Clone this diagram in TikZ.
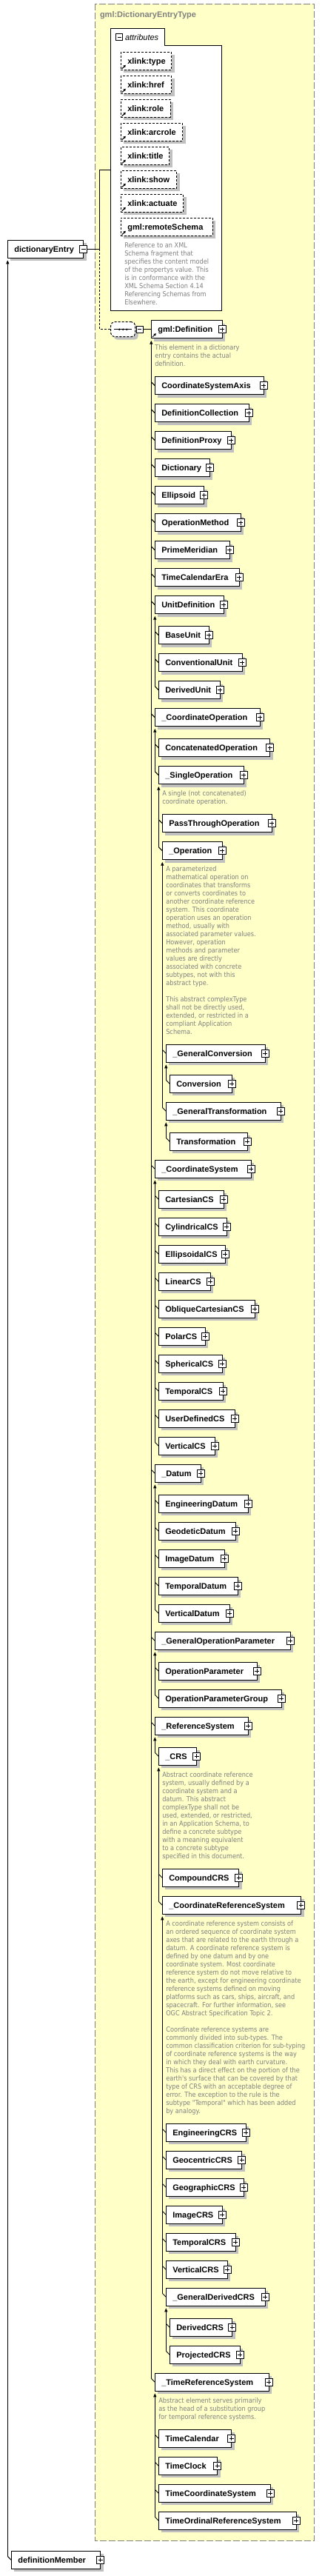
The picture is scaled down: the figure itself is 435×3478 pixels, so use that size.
\documentclass[tikz,border=0pt]{standalone}
\usepackage{fontspec}
\setmainfont{Liberation Sans}
\newfontfamily\descfont[FakeStretch=0.88]{DejaVu Sans}
\usetikzlibrary{arrows.meta,calc}
\definecolor{ybg}{HTML}{FFFFC8}
\definecolor{shd}{HTML}{C0C0C0}
\definecolor{dgray}{HTML}{808080}
\tikzset{
 every node/.style={outer sep=0pt},
 ebox/.style={draw=black, fill=white, line width=1pt, inner sep=0pt, anchor=north west, minimum height=24pt},
 abox/.style={ebox, dash pattern=on 3pt off 2pt},
 etext/.style={font=\fontsize{11}{13}\selectfont\bfseries, inner sep=0pt, anchor=base west},
 pbox/.style={draw=black, fill=white, line width=1pt, minimum size=10pt, inner sep=0pt},
 desc/.style={font=\descfont\fontsize{9.3}{11}\selectfont, text=dgray, align=left, inner sep=0pt, anchor=north west},
 conn/.style={line width=1pt},
 subarrow/.style={line width=1pt, -{Triangle[width=4pt,length=5pt]}},
}
\newcommand\xplus[1]{%
 \node[pbox] (#1-p) at (#1.east) {};
 \draw[line width=1pt] ([xshift=2pt]#1-p.west) -- ([xshift=-2pt]#1-p.east) ([yshift=-2pt]#1-p.north) -- ([yshift=2pt]#1-p.south);}
\newcommand\xel[5]{%
 \fill[shd] (#2+4,#3+4) rectangle (#4+4,#3+28);
 \node[ebox, minimum width={#4pt-#2pt}] (#1) at (#2,#3) {};
 \node[etext] (#1-t) at ([shift={(9pt,-4pt)}]#1.west) {#5};
 \xplus{#1}}
\newcommand\refic[1]{\draw[line width=1pt,-{Triangle[width=3.5pt,length=3pt]}] ([shift={(1.5pt,1.5pt)}]#1.south west) -- ++(5pt,5pt);}
\newcommand\xattr[4]{%
 \fill[shd] (167.3,#2+4) rectangle (#3+4,#2+28);
 \node[abox, minimum width={#3pt-163.3pt}] (#1) at (163.3,#2) {};
 \node[etext] (#1-t) at ([shift={(9pt,-4pt)}]#1.west) {#4};
 \refic{#1}}
\newcommand\xsub[1]{\draw[conn] ([shift={(-5pt,5pt)}]#1.west) -- (#1.west);}
\newcommand\xsubv[2]{\draw[subarrow] ([shift={(-5pt,5pt)}]#2.west) -- ([yshift=-3pt]#1.south west);}
\begin{document}
\begin{tikzpicture}[x=1pt,y=-1pt]
\useasboundingbox (0,0) rectangle (435,3478);
\fill[white] (0,0) rectangle (435,3478);
% outer complex type box
\draw[dgray, dash pattern=on 9pt off 3pt, fill=ybg, line width=1pt] (128.3,5.3) rectangle (424.3,3430.7);
\node[font=\fontsize{11}{13}\selectfont\bfseries, text=dgray, anchor=base west, inner sep=0pt] (title) at (135,23.3) {gml:DictionaryEntryType};
% attributes container
\draw[line width=1pt, fill=white] (149.3,38.3) -- (222.3,38.3) -- (222.3,61.3) -- (299.3,61.3) -- (299.3,419.3) -- (149.3,419.3) -- cycle;
\node[pbox, minimum size=9pt] (attrm) at (161.3,50.3) {};
\draw[line width=1pt] ([xshift=2pt]attrm.west) -- ([xshift=-2pt]attrm.east);
\node[font=\fontsize{11}{13}\selectfont\itshape, inner sep=0pt, anchor=base west] (attrt) at (169,54.3) {attributes};
\xattr{at1}{70.3}{231.7}{xlink:type}
\xattr{at2}{102.3}{231.7}{xlink:href}
\xattr{at3}{134.3}{230}{xlink:role}
\xattr{at4}{166.3}{246.7}{xlink:arcrole}
\xattr{at5}{198.3}{228.7}{xlink:title}
\xattr{at6}{230.3}{238.7}{xlink:show}
\xattr{at7}{262.3}{247.7}{xlink:actuate}
\xattr{at8}{294.3}{287.3}{gml:remoteSchema}
\node[desc] (at8d) at (168.3,327.5) {Reference to an XML\\Schema fragment that\\specifies the content model\\of the propertys value. This\\is in conformance with the\\XML Schema Section 4.14\\Referencing Schemas from\\Elsewhere.};
% dictionaryEntry
\fill[shd] (14.3,328) rectangle (116.7,352);
\node[ebox, minimum width=102.4pt] (de) at (10.3,324.3) {};
\node[etext] (de-t) at ([shift={(9pt,-4pt)}]de.west) {dictionaryEntry};
\node[pbox] (de-m) at (de.east) {};
\draw[line width=1pt] ([xshift=2pt]de-m.west) -- ([xshift=-2pt]de-m.east);
\coordinate (j0) at (134.3,229.3);
\coordinate (j1) at (134.3,336.3);
\coordinate (j2) at (134.3,444.7);
\coordinate (attrL) at (149.3,229.3);
\draw[conn] (de-m.east) -- (j1) -- (j0) -- (attrL);
% sequence
\fill[shd, rounded corners=5pt] (153.7,438.7) rectangle (186.7,458.7);
\node[draw, dash pattern=on 3pt off 2pt, fill=white, rounded corners=5pt, minimum width=33pt, minimum height=20pt, inner sep=0pt, line width=1pt] (seq) at (166.2,444.7) {};
\draw[line width=1pt] (154.3,444.7) -- (178.3,444.7);
\fill (161.3,444.7) circle (1.4) (166.3,444.7) circle (1.4) (171.3,444.7) circle (1.4);
\draw[conn, dash pattern=on 3pt off 2pt] (j1) -- (j2) -- (seq.west);
\node[pbox, minimum size=9pt] (seqm) at (188.8,444.7) {};
\draw[line width=1pt] ([xshift=2pt]seqm.west) -- ([xshift=-2pt]seqm.east);
% gml:Definition
\xel{def}{204.3}{432.7}{300.3}{gml:Definition}
\refic{def}
\draw[conn] (seqm.east) -- (def.west);
\node[desc] (defd) at (209.3,465.5) {This element in a dictionary\\entry contains the actual\\definition.};
% level 1
\xel{csa}{209.3}{508.7}{356.3}{CoordinateSystemAxis}
\xel{dcol}{209.3}{545.7}{336.3}{DefinitionCollection}
\xel{dprox}{209.3}{582.7}{312.3}{DefinitionProxy}
\xel{dict}{209.3}{619.7}{283.3}{Dictionary}
\xel{ell}{209.3}{656.7}{275.7}{Ellipsoid}
\xel{opm}{209.3}{693.7}{325.3}{OperationMethod}
\xel{pm}{209.3}{730.7}{310.3}{PrimeMeridian}
\xel{tce}{209.3}{767.7}{323.3}{TimeCalendarEra}
\xel{ud}{209.3}{804.7}{302.3}{UnitDefinition}
\xel{bu}{214.3}{845.7}{282.3}{BaseUnit}
\xel{cu}{214.3}{882.7}{327.3}{ConventionalUnit}
\xel{du}{214.3}{919.7}{297.3}{DerivedUnit}
\xel{cop}{209.3}{956.7}{351.3}{\_CoordinateOperation}
\xel{concat}{214.3}{997.7}{364.7}{ConcatenatedOperation}
\xel{sop}{214.3}{1034.7}{329.3}{\_SingleOperation}
\node[desc] (sopd) at (219.3,1067.8) {A single (not concatenated)\\coordinate operation.};
\xel{pto}{219.3}{1099.7}{367.3}{PassThroughOperation}
\xel{oper}{219.3}{1136.7}{300.3}{\_Operation}
\node[desc] (operd) at (224.3,1169.5) {A parameterized\\mathematical operation on\\coordinates that transforms\\or converts coordinates to\\another coordinate reference\\system. This coordinate\\operation uses an operation\\method, usually with\\associated parameter values.\\However, operation\\methods and parameter\\values are directly\\associated with concrete\\subtypes, not with this\\abstract type.\\[11pt]This abstract complexType\\shall not be directly used,\\extended, or restricted in a\\compliant Application\\Schema.};
\xel{gconv}{224.3}{1410.3}{358.3}{\_GeneralConversion}
\xel{conv}{229.3}{1451.3}{313.3}{Conversion}
\xel{gtrans}{224.3}{1488.3}{379.3}{\_GeneralTransformation}
\xel{trans}{229.3}{1529.3}{334.3}{Transformation}
\xel{cs}{209.3}{1566.3}{339.3}{\_CoordinateSystem}
\xel{cart}{214.3}{1607.3}{302.3}{CartesianCS}
\xel{cyl}{214.3}{1644.3}{306.3}{CylindricalCS}
\xel{ellcs}{214.3}{1681.3}{304.3}{EllipsoidalCS}
\xel{lin}{214.3}{1718.3}{284.3}{LinearCS}
\xel{obl}{214.3}{1755.3}{344.3}{ObliqueCartesianCS}
\xel{polar}{214.3}{1792.3}{277.3}{PolarCS}
\xel{sph}{214.3}{1829.3}{300.3}{SphericalCS}
\xel{tcs}{214.3}{1866.3}{301.3}{TemporalCS}
\xel{udcs}{214.3}{1903.3}{317.3}{UserDefinedCS}
\xel{vcs}{214.3}{1940.3}{290.3}{VerticalCS}
\xel{datum}{209.3}{1977.3}{271.3}{\_Datum}
\xel{engd}{214.3}{2018.3}{335.3}{EngineeringDatum}
\xel{geod}{214.3}{2055.3}{318.3}{GeodeticDatum}
\xel{imgd}{214.3}{2092.3}{303.3}{ImageDatum}
\xel{tempd}{214.3}{2129.3}{321.3}{TemporalDatum}
\xel{vertd}{214.3}{2166.3}{310}{VerticalDatum}
\xel{gop}{209.3}{2203.3}{392.3}{\_GeneralOperationParameter}
\xel{opp}{214.3}{2244.3}{347.3}{OperationParameter}
\xel{oppg}{214.3}{2281.3}{380}{OperationParameterGroup}
\xel{rs}{209.3}{2318.3}{335.3}{\_ReferenceSystem}
\xel{crs}{214.3}{2359.3}{265.7}{\_CRS}
\node[desc] (crsd) at (219.3,2392.8) {Abstract coordinate reference\\system, usually defined by a\\coordinate system and a\\datum. This abstract\\complexType shall not be\\used, extended, or restricted,\\in an Application Schema, to\\define a concrete subtype\\with a meaning equivalent\\to a concrete subtype\\specified in this document.};
\xel{comp}{219.3}{2523.3}{322.7}{CompoundCRS}
\xel{ccrs}{219.3}{2560.3}{406.7}{\_CoordinateReferenceSystem}
\node[desc] (ccrsd) at (224.3,2593.5) {A coordinate reference system consists of\\an ordered sequence of coordinate system\\axes that are related to the earth through a\\datum. A coordinate reference system is\\defined by one datum and by one\\coordinate system. Most coordinate\\reference system do not move relative to\\the earth, except for engineering coordinate\\reference systems defined on moving\\platforms such as cars, ships, aircraft, and\\spacecraft. For further information, see\\OGC Abstract Specification Topic 2.\\[11pt]Coordinate reference systems are\\commonly divided into sub-types. The\\common classification criterion for sub-typing\\of coordinate reference systems is the way\\in which they deal with earth curvature.\\This has a direct effect on the portion of the\\earth's surface that can be covered by that\\type of CRS with an acceptable degree of\\error. The exception to the rule is the\\subtype "Temporal" which has been added\\by analogy.};
\xel{engcrs}{224.3}{2867.3}{332.3}{EngineeringCRS}
\xel{geoc}{224.3}{2904.3}{326.7}{GeocentricCRS}
\xel{geog}{224.3}{2941.3}{329.3}{GeographicCRS}
\xel{imgcrs}{224.3}{2978.3}{300.3}{ImageCRS}
\xel{tcrs}{224.3}{3015.3}{318.3}{TemporalCRS}
\xel{vcrs}{224.3}{3052.3}{307.3}{VerticalCRS}
\xel{gdcrs}{224.3}{3089.3}{358.3}{\_GeneralDerivedCRS}
\xel{dcrs}{229.3}{3130.3}{313.7}{DerivedCRS}
\xel{pcrs}{229.3}{3167.3}{324.3}{ProjectedCRS}
\xel{trs}{209.3}{3204.3}{363.3}{\_TimeReferenceSystem}
\node[desc] (trsd) at (214.3,3237.8) {Abstract element serves primarily\\as the head of a substitution group\\for temporal reference systems.};
\xel{tcal}{214.3}{3280.3}{312.7}{TimeCalendar}
\xel{tclk}{214.3}{3317.3}{293.7}{TimeClock}
\xel{tcoord}{214.3}{3354.3}{365.3}{TimeCoordinateSystem}
\xel{tord}{214.3}{3391.3}{400.3}{TimeOrdinalReferenceSystem}
% definitionMember
\xel{dm}{15.3}{3444.3}{135.7}{definitionMember}
% connectors
\foreach \n in {csa,dcol,dprox,dict,ell,opm,pm,tce,ud,bu,cu,du,cop,concat,sop,pto,oper,gconv,conv,gtrans,trans,cs,cart,cyl,ellcs,lin,obl,polar,sph,tcs,udcs,vcs,datum,engd,geod,imgd,tempd,vertd,gop,opp,oppg,rs,crs,comp,ccrs,engcrs,geoc,geog,imgcrs,tcrs,vcrs,gdcrs,dcrs,pcrs,trs,tcal,tclk,tcoord,tord,dm}{\xsub{\n}}
\xsubv{def}{trs}
\xsubv{ud}{du}
\xsubv{cop}{sop}
\xsubv{sop}{oper}
\xsubv{oper}{gtrans}
\xsubv{gconv}{conv}
\xsubv{gtrans}{trans}
\xsubv{cs}{vcs}
\xsubv{datum}{vertd}
\xsubv{gop}{oppg}
\xsubv{rs}{crs}
\xsubv{crs}{ccrs}
\xsubv{ccrs}{gdcrs}
\xsubv{gdcrs}{pcrs}
\xsubv{trs}{tord}
\xsubv{de}{dm}
\end{tikzpicture}
\end{document}
